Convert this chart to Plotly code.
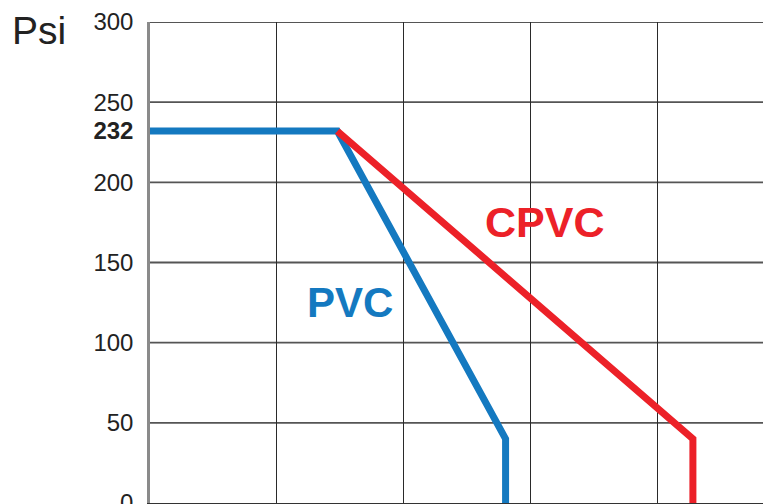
import plotly.graph_objects as go

# Data (x: temperature scale, gridline every 20 units; y: pressure in psi)
pvc_x = [0, 29.5, 56, 56]
pvc_y = [232, 232, 40, 0]
cpvc_x = [29.5, 85.5, 85.5]
cpvc_y = [232, 40, 0]
y_tickvals = [0, 50, 100, 150, 200, 232, 250, 300]
y_ticktext = ["0", "50", "100", "150", "200", "<b>232</b>", "250", "300"]
grid_vals = [50, 100, 150, 200, 250, 300]

BLUE = "#1479C0"
RED = "#EC2128"
FONT = "Liberation Sans, Arial, Helvetica, sans-serif"

fig = go.Figure()
fig.add_trace(go.Scatter(x=pvc_x, y=pvc_y, mode="lines",
                         line=dict(color=BLUE, width=7), name="PVC",
                         hoverinfo="skip"))
fig.add_trace(go.Scatter(x=cpvc_x, y=cpvc_y, mode="lines",
                         line=dict(color=RED, width=7), name="CPVC",
                         hoverinfo="skip"))

fig.add_annotation(x=62.2, y=175, text="<b>CPVC</b>", showarrow=False,
                   font=dict(family=FONT, size=43, color=RED))
fig.add_annotation(x=31.5, y=125, text="<b>PVC</b>", showarrow=False,
                   font=dict(family=FONT, size=42, color=BLUE))
fig.add_annotation(xref="paper", yref="paper", x=(10 - 150) / 621, y=(503 - 30) / 481,
                   xanchor="left", yanchor="middle", text="Psi", showarrow=False,
                   font=dict(family=FONT, size=39, color="#222"))

# page body has an 8px margin, so the figure is sized/placed to compensate
fig.update_layout(
    width=763, height=496,
    margin=dict(l=142, r=0, t=14, b=1, autoexpand=False),
    paper_bgcolor="white", plot_bgcolor="white",
    showlegend=False,
    font=dict(family=FONT, color="#222"),
)
fig.update_xaxes(range=[0, 97.8], dtick=20, tick0=0, showgrid=True,
                 gridcolor="#2a2a2a", gridwidth=1.3, showticklabels=False,
                 zeroline=False, showline=True, linecolor="#333", linewidth=2,
                 ticks="", automargin=False)
fig.update_yaxes(range=[0, 300], tickvals=y_tickvals, ticktext=y_ticktext,
                 showgrid=False, ticklabeloverflow="allow", automargin=False,
                 zeroline=False, showline=True, linecolor="#8a8a8a", linewidth=2.5,
                 ticks="", ticklabelstandoff=9,
                 tickfont=dict(family=FONT, size=24, color="#222"))
for v in grid_vals:
    fig.add_hline(y=v, line=dict(color="#555", width=1.8), layer="below")

fig.write_html("out.html")
